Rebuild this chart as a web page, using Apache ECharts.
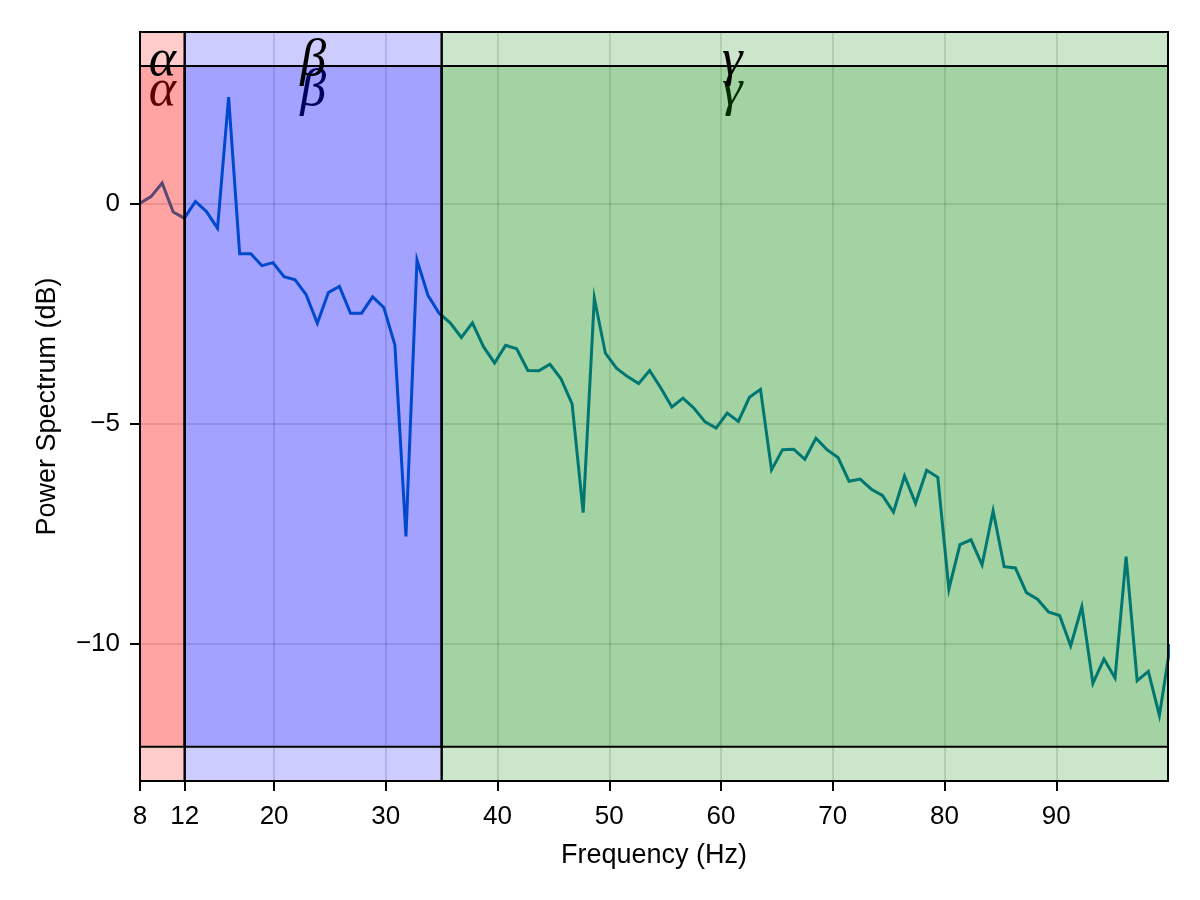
<!DOCTYPE html>
<html>
<head>
<meta charset="utf-8">
<script src="https://cdn.jsdelivr.net/npm/echarts@6/dist/echarts.min.js"></script>
<style>
  html, body { margin: 0; padding: 0; background: #fff; }
  #chart { width: 1200px; height: 900px; }
</style>
</head>
<body>
<div id="chart"></div>
<script>
// ---- data ----
const freqs = [
  8.00, 8.99, 9.98, 10.97, 11.97, 12.96, 13.95, 14.94, 15.93, 16.92,
  17.92, 18.91, 19.90, 20.89, 21.88, 22.87, 23.87, 24.86, 25.85, 26.84,
  27.83, 28.82, 29.82, 30.81, 31.80, 32.79, 33.78, 34.77, 35.76, 36.76,
  37.75, 38.74, 39.73, 40.72, 41.71, 42.71, 43.70, 44.69, 45.68, 46.67,
  47.66, 48.66, 49.65, 50.64, 51.63, 52.62, 53.61, 54.61, 55.60, 56.59,
  57.58, 58.57, 59.56, 60.55, 61.55, 62.54, 63.53, 64.52, 65.51, 66.50,
  67.50, 68.49, 69.48, 70.47, 71.46, 72.45, 73.45, 74.44, 75.43, 76.42,
  77.41, 78.40, 79.40, 80.39, 81.38, 82.37, 83.36, 84.35, 85.34, 86.34,
  87.33, 88.32, 89.31, 90.30, 91.29, 92.29, 93.28, 94.27, 95.26, 96.25,
  97.24, 98.24, 99.23, 100.22
];
const powerDb = [
  0.02, 0.17, 0.48, -0.18, -0.32, 0.06, -0.17, -0.55, 2.43, -1.13,
  -1.13, -1.40, -1.33, -1.65, -1.72, -2.06, -2.71, -2.01, -1.87, -2.48,
  -2.48, -2.11, -2.35, -3.20, -7.55, -1.27, -2.08, -2.48, -2.70, -3.03,
  -2.70, -3.24, -3.61, -3.21, -3.29, -3.78, -3.79, -3.64, -3.97, -4.54,
  -7.01, -2.14, -3.39, -3.73, -3.92, -4.08, -3.78, -4.18, -4.61, -4.41,
  -4.64, -4.95, -5.09, -4.75, -4.94, -4.39, -4.21, -6.04, -5.58, -5.57,
  -5.80, -5.32, -5.58, -5.76, -6.30, -6.25, -6.48, -6.62, -7.00, -6.18,
  -6.80, -6.05, -6.21, -8.75, -7.74, -7.63, -8.20, -6.97, -8.24, -8.27,
  -8.83, -8.98, -9.27, -9.35, -10.04, -9.15, -10.89, -10.34, -10.77, -8.01,
  -10.83, -10.62, -11.62, -10.00
];
const bandNames = ['α', 'β', 'γ'];
const bandStart = [8, 12, 35];
const bandEnd = [12, 35, 100];
const bandColors = ['rgba(255,0,0,0.2)', 'rgba(0,0,255,0.2)', 'rgba(0,128,0,0.2)'];
const bandLabelX = [10, 23.5, 61];
const rectLow = -12.33;
const rectHigh = 3.14;
const labelYTop = 3.24;
const labelYBottom = 2.56;
const xTicks = [8, 12, 20, 30, 40, 50, 60, 70, 80, 90];
const yTicks = [-10, -5, 0];
const xMin = 8, xMax = 100, yMin = -13.11, yMax = 3.91;

// ---- chart ----
const FONT = '"Liberation Sans", Arial, sans-serif';
const chart = echarts.init(document.getElementById('chart'), null, { renderer: 'canvas' });

const lineData = freqs.map((f, i) => [f, powerDb[i]]);

function greekSeries(yVal, z, name) {
  return {
    type: 'custom',
    name: name,
    z: z,
    silent: true,
    clip: false,
    data: bandLabelX.map(x => [x, yVal]),
    renderItem: function (params, api) {
      const p = api.coord([api.value(0), api.value(1)]);
      return {
        type: 'text',
        x: p[0],
        y: p[1],
        style: {
          text: bandNames[params.dataIndex],
          font: 'italic 52px "Liberation Serif", "DejaVu Serif", serif',
          fill: '#000',
          align: 'center',
          verticalAlign: 'middle'
        }
      };
    }
  };
}

const option = {
  animation: false,
  backgroundColor: '#fff',
  grid: {
    left: 140, right: 32, top: 32, bottom: 119,
    show: true, borderColor: '#000', borderWidth: 2, backgroundColor: 'transparent'
  },
  xAxis: {
    type: 'value', min: xMin, max: xMax,
    name: 'Frequency (Hz)', nameLocation: 'middle', nameGap: 61,
    nameTextStyle: { fontSize: 27, color: '#000', fontFamily: FONT },
    axisLine: { show: true, onZero: false, lineStyle: { color: '#000', width: 2 } },
    axisTick: { show: true, customValues: xTicks, length: 10, lineStyle: { color: '#000', width: 2 } },
    axisLabel: { customValues: xTicks, fontSize: 26, color: '#000', fontFamily: FONT, margin: 23 },
    splitLine: { show: false }
  },
  yAxis: {
    type: 'value', min: yMin, max: yMax,
    name: 'Power Spectrum (dB)', nameLocation: 'middle', nameGap: 79,
    nameTextStyle: { fontSize: 27, color: '#000', fontFamily: FONT },
    axisLine: { show: true, onZero: false, lineStyle: { color: '#000', width: 2 } },
    axisTick: { show: true, customValues: yTicks, length: 10, lineStyle: { color: '#000', width: 2 } },
    axisLabel: {
      customValues: yTicks, fontSize: 26, color: '#000', fontFamily: FONT, margin: 20,
      formatter: v => (v < 0 ? '\u2212' + Math.abs(v) : String(v))
    },
    splitLine: { show: false }
  },
  series: [
    {
      type: 'line', name: 'gridlines', data: [], silent: true,
      markLine: {
        z: 1, silent: true, symbol: ['none', 'none'], label: { show: false },
        lineStyle: { color: 'rgba(0,0,0,0.12)', width: 2, type: 'solid' },
        emphasis: { disabled: true },
        data: xTicks.map(v => ({ xAxis: v })).concat(yTicks.map(v => ({ yAxis: v })))
      }
    },
    {
      type: 'line', name: 'spectrum', z: 2, data: lineData,
      showSymbol: false, symbol: 'none', clip: true, silent: true,
      lineStyle: { color: '#0072B2', width: 3, join: 'miter', cap: 'butt' }
    },
    greekSeries(labelYBottom, 3, 'labelsLow'),
    {
      type: 'line', name: 'vspans', data: [], silent: true,
      markArea: {
        z: 10, silent: true, label: { show: false },
        emphasis: { disabled: true },
        data: bandNames.map((n, i) => [
          { xAxis: bandStart[i], itemStyle: { color: bandColors[i], borderColor: '#000', borderWidth: 2 } },
          { xAxis: bandEnd[i] }
        ])
      }
    },
    {
      type: 'line', name: 'rects', data: [], silent: true,
      markArea: {
        z: 11, silent: true, label: { show: false },
        emphasis: { disabled: true },
        data: bandNames.map((n, i) => [
          { xAxis: bandStart[i], yAxis: rectLow, itemStyle: { color: bandColors[i], borderColor: '#000', borderWidth: 2 } },
          { xAxis: bandEnd[i], yAxis: rectHigh }
        ])
      }
    },
    greekSeries(labelYTop, 20, 'labelsTop')
  ]
};
chart.setOption(option);
</script>
</body>
</html>
